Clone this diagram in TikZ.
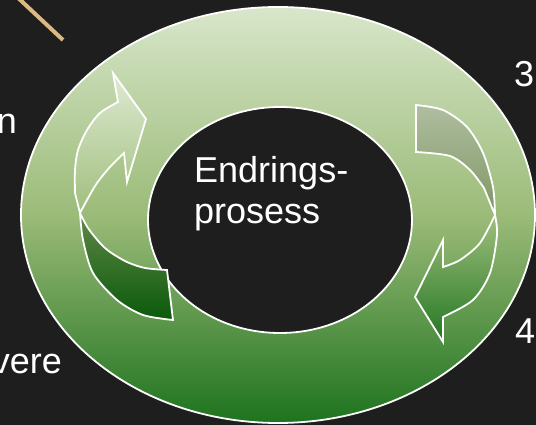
\documentclass[tikz,border=0pt]{standalone}
\usepackage{fontspec}
\setmainfont{Liberation Sans}
\definecolor{bg}{RGB}{30,30,30}
\definecolor{linetan}{RGB}{220,185,130}
\definecolor{ringtop}{RGB}{216,230,202}
\definecolor{ringmid}{RGB}{155,187,120}
\definecolor{ringbot}{RGB}{30,115,30}
\definecolor{lfronttop}{RGB}{222,234,210}
\definecolor{lfrontbot}{RGB}{160,190,125}
\definecolor{lbacktop}{RGB}{95,135,70}
\definecolor{lbackbot}{RGB}{10,90,10}
\definecolor{rbacktop}{RGB}{175,190,160}
\definecolor{rbackbot}{RGB}{128,150,100}
\definecolor{rfronttop}{RGB}{160,192,125}
\definecolor{rfrontbot}{RGB}{35,118,35}

\begin{document}
\begin{tikzpicture}[x=1pt,y=-1pt,
    lbl/.style={text=white,inner sep=0pt,font=\fontsize{36}{41}\selectfont},
    edge/.style={draw=white,line width=1.8pt,line join=miter}]
\clip (0,0) rectangle (536,425);
\fill[bg] (0,0) rectangle (536,425);

\draw[linetan,line width=4pt] (15,-5) -- (63,40);

\path (278,215) coordinate (ring) (280,220) coordinate (hole);
\draw[edge,top color=ringtop,bottom color=ringbot,middle color=ringmid]
    (ring) ellipse [x radius=257,y radius=208];
\draw[edge,fill=bg] (hole) ellipse [x radius=132,y radius=113];

\draw[edge,top color=lbacktop,bottom color=lbackbot]
    plot[smooth] coordinates {(80,213) (83,240) (93,273) (117,300) (143,315) (173,320)}
    -- plot[smooth] coordinates {(167,270) (145,268) (127,262) (110,252) (100,243) (88,228) (80,213)}
    -- cycle;
\draw[edge,top color=lfronttop,bottom color=lfrontbot]
    (113,73) -- (146,119) -- (127,182)
    -- plot[smooth] coordinates {(124,153) (110,167) (97,183) (87,200) (80,213)}
    -- plot[smooth] coordinates {(75,193) (75,170) (78,150) (87,130) (100,113) (118,102)}
    -- cycle;

\draw[edge,top color=rbacktop,bottom color=rbackbot]
    (416,152)
    -- plot[smooth] coordinates {(416,105) (443,110) (467,127) (483,153) (493,187) (495,215)}
    -- plot[smooth] coordinates {(484,188) (470,170) (450,156) (416,152)}
    -- cycle;
\draw[edge,top color=rfronttop,bottom color=rfrontbot]
    plot[smooth] coordinates {(495,215) (497,235) (490,273) (473,300) (443,317)}
    -- (443,342) -- (415,297) -- (443,240)
    -- plot[smooth] coordinates {(443,267) (460,260) (480,243) (495,215)}
    -- cycle;

\node (proc) [lbl,align=left,anchor=west] at (194,194) {Endrings-\\prosess};
\node (stepn) [lbl,anchor=base east] at (17,134) {n};
\node (stepvere) [lbl,anchor=base east] at (62,373) {vere};
\node (step3) [lbl,anchor=base west] at (514,87) {3};
\node (step4) [lbl,anchor=base west] at (515,343) {4};
\end{tikzpicture}
\end{document}
